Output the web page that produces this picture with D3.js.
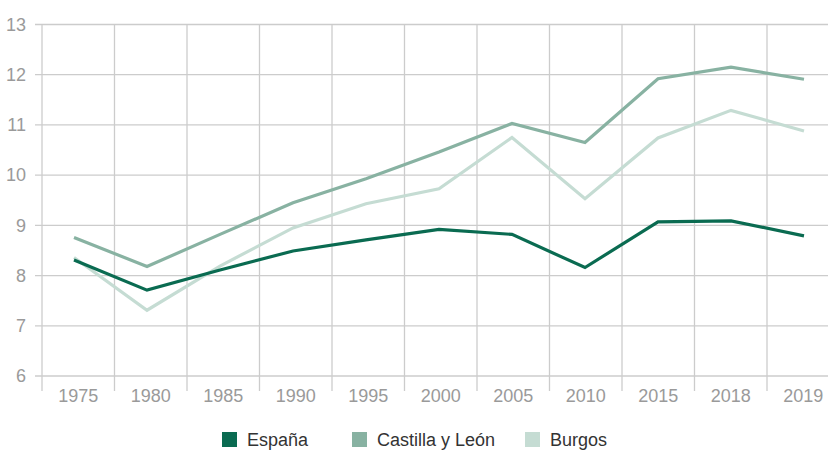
<!DOCTYPE html>
<html>
<head>
<meta charset="utf-8">
<script src="https://d3js.org/d3.v7.min.js"></script>
<style>
  body { margin: 0; background: #fff; }
  svg { display: block; font-family: "Liberation Sans", Arial, sans-serif; }
  .grid line { stroke: #cccccc; stroke-width: 1.3px; }
  .tick-label { fill: #9a9a9a; font-size: 18px; }
  .legend text { fill: #333333; font-size: 18px; }
</style>
</head>
<body>
<div id="chart"></div>
<script>
// categories and series
var years = ['1975', '1980', '1985', '1990', '1995', '2000', '2005', '2010', '2015', '2018', '2019'];
var espana   = [8.31, 7.71, 8.11, 8.49, 8.71, 8.92, 8.82, 8.16, 9.07, 9.09, 8.79];
var castilla = [8.76, 8.18, 8.82, 9.45, 9.93, 10.46, 11.03, 10.65, 11.92, 12.15, 11.91];
var burgos   = [8.36, 7.31, 8.19, 8.95, 9.43, 9.73, 10.75, 9.53, 10.74, 11.29, 10.88];
var yTicks = [6, 7, 8, 9, 10, 11, 12, 13];

var series = [
  { name: 'España', values: espana, color: '#0a6b51' },
  { name: 'Castilla y León', values: castilla, color: '#88b2a2' },
  { name: 'Burgos', values: burgos, color: '#c5dcd3' }
];

var W = 828, H = 450;
var svg = d3.select('#chart').append('svg').attr('width', W).attr('height', H);

// bands for grid + labels, points for the lines
var x = d3.scaleBand().domain(years).range([42, 839.5]).padding(0);
var xp = d3.scalePoint().domain(years).range([74, 804]);
var y = d3.scaleLinear().domain([6, 13]).range([376, 24.5]);

// horizontal grid
var g = svg.append('g').attr('class', 'grid');
g.selectAll('.h').data(yTicks).enter().append('line')
  .attr('x1', 35).attr('x2', W)
  .attr('y1', d => y(d)).attr('y2', d => y(d));

// vertical grid at band edges
var edges = years.map(d => x(d));
g.selectAll('.v').data(edges).enter().append('line')
  .attr('x1', d => d).attr('x2', d => d)
  .attr('y1', y(13)).attr('y2', 391);

// y labels
svg.selectAll('.ylab').data(yTicks).enter().append('text')
  .attr('class', 'tick-label')
  .attr('x', 26).attr('y', d => y(d))
  .attr('dy', '0.35em')
  .attr('text-anchor', 'end')
  .text(d => d);

// x labels
svg.selectAll('.xlab').data(years).enter().append('text')
  .attr('class', 'tick-label')
  .attr('x', d => x(d) + x.bandwidth() / 2).attr('y', 396)
  .attr('dy', '0.35em')
  .attr('text-anchor', 'middle')
  .text(d => d);

// lines, lightest drawn first
var line = d3.line()
  .x((d, i) => xp(years[i]))
  .y(d => y(d));

series.slice().reverse().forEach(function(s) {
  svg.append('path')
    .attr('d', line(s.values))
    .attr('fill', 'none')
    .attr('stroke', s.color)
    .attr('stroke-width', 3.2)
    .attr('stroke-linejoin', 'miter');
});

// legend
var legendX = [222, 352, 525];
var legend = svg.append('g').attr('class', 'legend');
series.forEach(function(s, i) {
  legend.append('rect')
    .attr('x', legendX[i]).attr('y', 432)
    .attr('width', 15).attr('height', 15)
    .attr('fill', s.color);
  legend.append('text')
    .attr('x', legendX[i] + 25).attr('y', 446)
    .text(s.name);
});
</script>
</body>
</html>
